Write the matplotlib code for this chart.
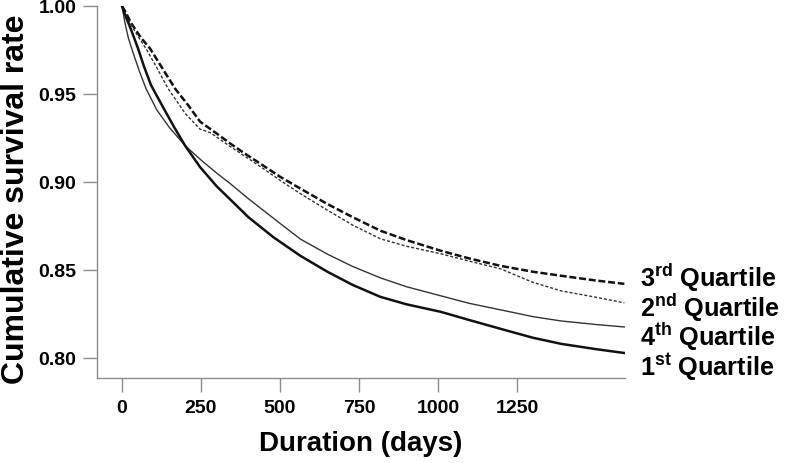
import matplotlib
matplotlib.use("Agg")
import matplotlib.pyplot as plt

plt.rcParams.update({
    "font.family": ["Liberation Sans", "DejaVu Sans"],
    "font.weight": "bold",
    "mathtext.fontset": "custom",
    "mathtext.rm": "Liberation Sans",
    "mathtext.bf": "Liberation Sans:bold",
})

# survival curves (days, cumulative survival)
q1_days = [0, 10, 30, 51, 70, 92, 130, 165, 200, 247, 300, 343, 400, 480, 565,
           650, 730, 818, 900, 1009, 1100, 1199, 1300, 1390, 1500, 1590]
q1_surv = [1.0, 0.995, 0.986, 0.9758, 0.9655, 0.9550, 0.9425, 0.9312, 0.9206, 0.9085,
           0.8975, 0.8900, 0.8800, 0.8685, 0.8580, 0.8490, 0.8415, 0.8347, 0.8305,
           0.8262, 0.8215, 0.8165, 0.8115, 0.8080, 0.8050, 0.8028]

q2_days = [0, 10, 30, 50, 76, 110, 146, 200, 247, 280, 343, 390, 438, 500, 565,
           650, 730, 818, 900, 1009, 1100, 1199, 1300, 1390, 1500, 1590]
q2_surv = [1.0, 0.996, 0.989, 0.983, 0.9758, 0.965, 0.9531, 0.9390, 0.9300, 0.9280,
           0.9201, 0.9145, 0.9087, 0.9010, 0.8933, 0.8840, 0.8755, 0.8677, 0.8635,
           0.8592, 0.8550, 0.8506, 0.8430, 0.8381, 0.8345, 0.8313]

q3_days = [0, 10, 30, 60, 89, 130, 168, 210, 247, 300, 343, 390, 438, 500, 565,
           650, 730, 818, 900, 1009, 1100, 1199, 1300, 1390, 1500, 1590]
q3_surv = [1.0, 0.997, 0.990, 0.982, 0.9758, 0.964, 0.9531, 0.9435, 0.9343, 0.9275,
           0.9218, 0.9160, 0.9104, 0.9030, 0.8962, 0.8875, 0.8800, 0.8723, 0.8670,
           0.8609, 0.8565, 0.8523, 0.8490, 0.8467, 0.8440, 0.8421]

q4_days = [0, 10, 20, 35, 55, 76, 110, 150, 200, 250, 300, 343, 400, 450, 500, 565,
           650, 730, 818, 900, 1009, 1100, 1199, 1300, 1390, 1500, 1590]
q4_surv = [1.0, 0.990, 0.982, 0.9735, 0.9630, 0.9531, 0.941, 0.931, 0.9206, 0.9125,
           0.9050, 0.8990, 0.8905, 0.8835, 0.8765, 0.8675, 0.8590, 0.8520, 0.8455,
           0.8405, 0.8353, 0.8310, 0.8273, 0.8235, 0.8210, 0.8190, 0.8176]

x_ticks = [0, 250, 500, 750, 1000, 1250]
y_ticks = [0.80, 0.85, 0.90, 0.95, 1.00]

labels = ["3$^{\\mathbf{rd}}$ Quartile", "2$^{\\mathbf{nd}}$ Quartile",
          "4$^{\\mathbf{th}}$ Quartile", "1$^{\\mathbf{st}}$ Quartile"]

fig = plt.figure(figsize=(7.87, 4.64), dpi=100)
ax = fig.add_axes([97 / 787, 1 - 379 / 464, (625 - 97) / 787, (379 - 7) / 464])

ax.plot(q3_days, q3_surv, color="#111111", linewidth=1.8, linestyle=(0, (2.8, 1.1)))
ax.plot(q2_days, q2_surv, color="#333333", linewidth=1.0, linestyle=(0, (2.2, 1.4)))
ax.plot(q4_days, q4_surv, color="#333333", linewidth=1.0)
ax.plot(q1_days, q1_surv, color="#111111", linewidth=1.8)

ax.set_xlim(-79, 1592)
ax.set_ylim(0.7886, 1.0)
ax.set_xticks(x_ticks)
ax.set_yticks(y_ticks)
ax.set_yticklabels([f"{v:.2f}" for v in y_ticks])

for side in ["top", "right"]:
    ax.spines[side].set_visible(False)
for side in ["left", "bottom"]:
    ax.spines[side].set_color("#8c8c8c")
    ax.spines[side].set_linewidth(1.0)

ax.tick_params(axis="both", direction="out", length=10, width=1.0, color="#8c8c8c",
               labelsize=14, pad=5)
for lab in ax.get_xticklabels() + ax.get_yticklabels():
    lab.set_fontweight("bold")

ax.set_xlabel("Duration (days)", fontsize=20, fontweight="bold", labelpad=10)
fig.text(16 / 787, 1 - 199 / 464, "Cumulative survival rate", fontsize=23,
         fontweight="bold", rotation=90, ha="center", va="center")

# curve labels at the right edge
baselines = [287, 317, 346, 375]
for text, yb in zip(labels, baselines):
    fig.text(640 / 787, 1 - yb / 464, text, fontsize=18.2, fontweight="bold",
             va="baseline", ha="left")

fig.savefig("out.png", dpi=100)
